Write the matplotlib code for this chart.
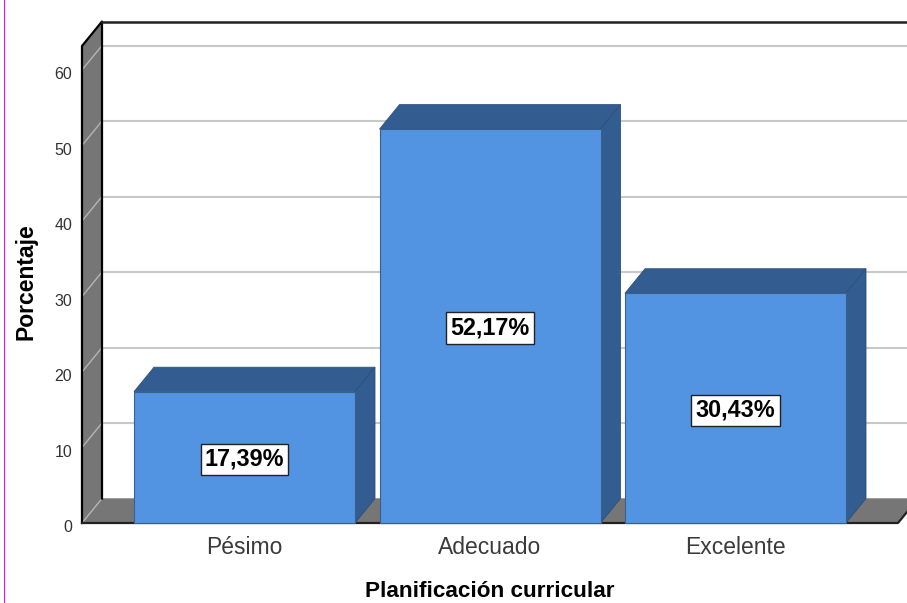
import matplotlib
matplotlib.use('Agg')
import matplotlib.pyplot as plt
from matplotlib.patches import Rectangle
from matplotlib.transforms import ScaledTranslation

plt.rcParams['font.family'] = ['Liberation Sans', 'DejaVu Sans']

categorias = ['Pésimo', 'Adecuado', 'Excelente']
porcentajes = [17.39, 52.17, 30.43]
etiquetas = ['17,39%', '52,17%', '30,43%']
yticks = [0, 10, 20, 30, 40, 50, 60]

W, H = 907, 603
# plano frontal del grafico en pixeles
x0_px, x1_px, y0_px, y1_px = 82, 898, 523, 46
paso_px = 245.5
centro_px = 244.5
px_y = 7.55

xmin = (x0_px - centro_px) / paso_px
xmax = (x1_px - centro_px) / paso_px
ymax = (y0_px - y1_px) / px_y
dx = 20 / paso_px
dy = 24.5 / px_y
ancho = 221 / paso_px

fig = plt.figure(figsize=(W / 100, H / 100), dpi=100)
ax = fig.add_axes([x0_px / W, 1 - y0_px / H, (x1_px - x0_px) / W, (y0_px - y1_px) / H])
ax.set_xlim(xmin, xmax)
ax.set_ylim(0, ymax)
for s in ax.spines.values():
    s.set_visible(False)

# pared del fondo: lineas de rejilla
for t in yticks:
    ax.plot([xmin + dx, xmax + dx], [t + dy, t + dy], color='#c8c8c8', lw=1.5, zorder=1, clip_on=False)

# piso y pared izquierda
ax.fill([xmin, xmax, xmax + dx, xmin + dx], [0, 0, dy, dy], color='#767676', lw=0, zorder=2, clip_on=False)
ax.fill([xmin, xmin + dx, xmin + dx, xmin], [0, dy, ymax + dy, ymax], color='#767676', lw=0, zorder=2, clip_on=False)
for t in yticks:
    ax.plot([xmin, xmin + dx], [t, t + dy], color='#b5b5b5', lw=1, zorder=3, clip_on=False)

# contornos
ax.plot([xmin, xmin, xmin + dx, xmin + dx], [0, ymax, ymax + dy, dy], color='black', lw=1.6, zorder=4, clip_on=False)
ax.plot([xmin + dx, xmax + dx], [ymax + dy, ymax + dy], color='#222222', lw=1.8, zorder=4, clip_on=False)
ax.plot([xmin, xmax, xmax + dx], [0, 0, dy], color='#222222', lw=1.6, zorder=4, clip_on=False)

# barras
pos = list(range(len(categorias)))
ax.bar(pos, porcentajes, width=ancho, color='#5294e2', edgecolor='#3b5f8c', lw=0.8, zorder=6, clip_on=False)
for p, v, e in zip(pos, porcentajes, etiquetas):
    izq, der = p - ancho / 2, p + ancho / 2
    ax.fill([izq, izq + dx, der + dx, der], [v, v + dy, v + dy, v], color='#335c90', ec='#2d5079', lw=0.6, zorder=5, clip_on=False)
    ax.fill([der, der + dx, der + dx, der], [0, dy, v + dy, v], color='#335c90', ec='#2d5079', lw=0.6, zorder=5, clip_on=False)
    ax.annotate(e, (p, v / 2), xytext=(0, -1.5), textcoords='offset points', ha='center', va='center',
                fontsize=16.8, fontweight='bold', color='black', zorder=8,
                bbox=dict(boxstyle='square,pad=0.18', fc='white', ec='#222222', lw=1))

ax.set_yticks(yticks)
ax.set_xticks(pos)
ax.set_xticklabels(categorias)
ax.tick_params(axis='y', length=0, pad=7, labelsize=11.5, labelcolor='#333333')
ax.tick_params(axis='x', length=0, pad=9, labelsize=16.5, labelcolor='#3a3a3a')
# las etiquetas del eje y van un poco mas abajo que su marca
bajar = ScaledTranslation(0, -2.5 / 72, fig.dpi_scale_trans)
for lab in ax.get_yticklabels():
    lab.set_transform(lab.get_transform() + bajar)
ax.set_xlabel('Planificación curricular', fontsize=16.2, fontweight='bold', labelpad=16, x=(490 - x0_px) / (x1_px - x0_px))
ax.set_ylabel('Porcentaje', fontsize=16.5, fontweight='bold', labelpad=12, y=0.505)

# linea magenta del borde izquierdo
fig.add_artist(Rectangle((4 / W, 0), 1 / W, 1, transform=fig.transFigure, fc='#ff00ff', lw=0, antialiased=False))

fig.savefig('out.png', dpi=100)
